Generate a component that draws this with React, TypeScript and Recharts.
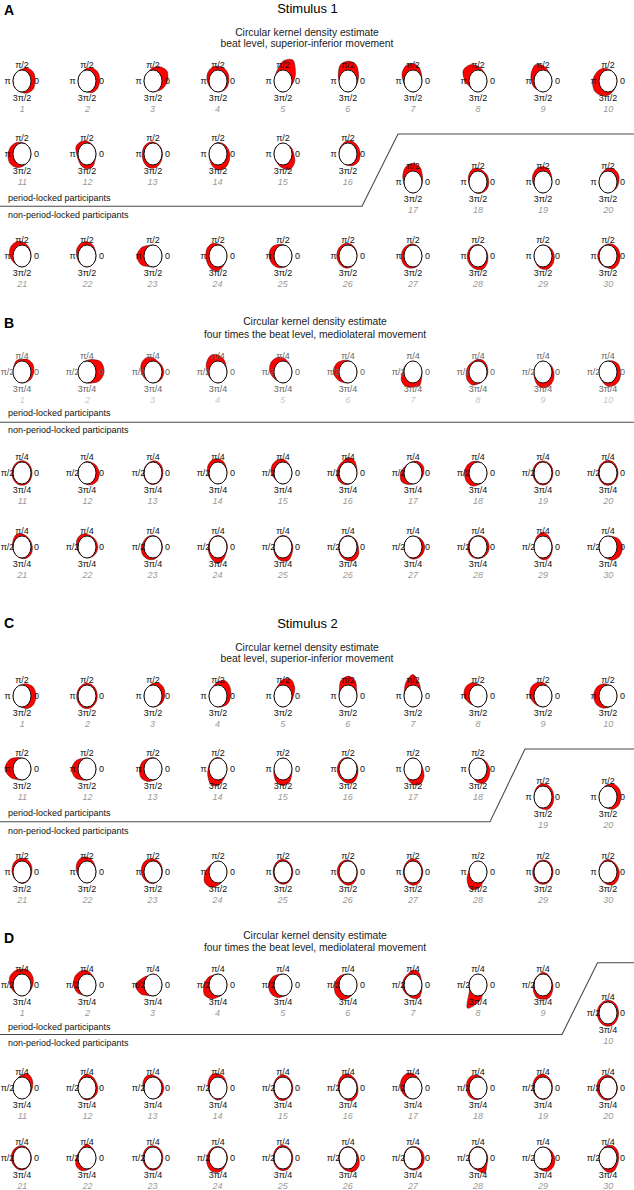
import { RadarChart, Radar, PolarAngleAxis, PolarRadiusAxis } from "recharts";

// angles (degrees, counter-clockwise from the right) at which the density was read
const ANGLES = [0, 30, 60, 90, 120, 150, 180, 210, 240, 270, 300, 330];
const TICK_ANGLES = [0, 90, 180, 270];
const BEAT_TICKS = ["0", "π/2", "π", "3π/2"];
const ML_TICKS = ["0", "π/4", "π/2", "3π/4"];

// density outside the unit circle, in circle radii, at each of ANGLES (participants 1-30)
const STIM1_BEAT: number[][] = [
  [0.45, 0.5, 0.35, 0.1, 0, 0, 0, 0, 0, 0.05, 0.25, 0.45],
  [0.4, 0.45, 0.35, 0.15, 0, 0, 0, 0, 0, 0, 0.2, 0.35],
  [0.6, 0.8, 0.5, 0.2, 0, 0, 0, 0, 0, 0, 0.05, 0.3],
  [0.2, 0.3, 0.35, 0.35, 0.4, 0.35, 0.2, 0.05, 0, 0, 0.05, 0.15],
  [0.2, 0.6, 1.2, 0.8, 0.2, 0, 0, 0, 0, 0, 0, 0],
  [0.1, 0.35, 0.75, 0.8, 0.7, 0.25, 0, 0, 0, 0, 0, 0],
  [0, 0.1, 0.4, 0.6, 0.6, 0.4, 0.1, 0, 0, 0, 0, 0],
  [0, 0, 0.1, 0.35, 0.7, 0.9, 0.45, 0.05, 0, 0, 0, 0],
  [0, 0, 0.1, 0.4, 0.7, 0.5, 0.3, 0.15, 0, 0, 0, 0],
  [0, 0, 0, 0.1, 0.3, 0.5, 0.7, 0.75, 0.5, 0.3, 0.1, 0],
  [0, 0, 0, 0.05, 0.2, 0.4, 0.55, 0.6, 0.4, 0.15, 0, 0],
  [0, 0, 0.05, 0.15, 0.3, 0.4, 0.15, 0.1, 0.25, 0.35, 0.3, 0.05],
  [0.05, 0.05, 0.05, 0.1, 0.15, 0.2, 0.2, 0.25, 0.3, 0.3, 0.2, 0.1],
  [0.3, 0.2, 0.1, 0.05, 0, 0, 0, 0.05, 0.25, 0.45, 0.5, 0.4],
  [0.2, 0.1, 0, 0, 0, 0, 0, 0, 0.1, 0.3, 0.6, 0.5],
  [0.35, 0.3, 0.25, 0.2, 0.1, 0.05, 0, 0, 0, 0.05, 0.2, 0.35],
  [0.05, 0.2, 0.55, 0.7, 0.6, 0.3, 0.05, 0, 0, 0, 0, 0],
  [0.2, 0.2, 0.15, 0.25, 0.3, 0.2, 0.05, 0, 0, 0.05, 0.1, 0.2],
  [0, 0.1, 0.3, 0.4, 0.4, 0.3, 0.15, 0, 0, 0, 0, 0],
  [0.2, 0.35, 0.35, 0.25, 0.1, 0, 0, 0, 0, 0, 0, 0.1],
  [0, 0.05, 0.15, 0.3, 0.45, 0.5, 0.35, 0.1, 0, 0, 0, 0],
  [0, 0.05, 0.2, 0.3, 0.35, 0.3, 0.15, 0.05, 0, 0, 0, 0],
  [0, 0, 0, 0, 0.1, 0.5, 0.8, 0.55, 0.1, 0, 0, 0],
  [0, 0, 0.05, 0.1, 0.3, 0.4, 0.35, 0.35, 0.4, 0.35, 0.1, 0],
  [0, 0, 0, 0.05, 0.2, 0.5, 0.55, 0.4, 0.2, 0.05, 0, 0],
  [0, 0.05, 0.1, 0.15, 0.2, 0.25, 0.25, 0.2, 0.15, 0.1, 0.05, 0],
  [0, 0, 0.05, 0.1, 0.15, 0.25, 0.3, 0.3, 0.2, 0.1, 0.05, 0],
  [0.1, 0.05, 0, 0.05, 0.1, 0.15, 0.2, 0.2, 0.2, 0.25, 0.3, 0.2],
  [0.25, 0.15, 0.05, 0, 0, 0, 0, 0, 0.1, 0.2, 0.3, 0.3],
  [0.35, 0.3, 0.2, 0.1, 0.05, 0.1, 0.15, 0.1, 0.05, 0.1, 0.3, 0.35],
];

const STIM1_ML: number[][] = [
  [0.3, 0.4, 0.3, 0.15, 0.2, 0.05, 0, 0, 0, 0, 0.05, 0.2],
  [0.9, 0.8, 0.3, 0.05, 0, 0, 0, 0, 0, 0, 0.15, 0.6],
  [0.2, 0.15, 0.1, 0.3, 0.5, 0.5, 0.3, 0.1, 0, 0, 0.05, 0.15],
  [0, 0.05, 0.3, 0.55, 0.7, 0.5, 0.2, 0.05, 0, 0, 0, 0],
  [0, 0, 0.1, 0.3, 0.5, 0.6, 0.45, 0.15, 0, 0, 0, 0],
  [0, 0, 0, 0.05, 0.2, 0.5, 0.65, 0.35, 0.1, 0, 0, 0],
  [0, 0, 0, 0, 0, 0.05, 0.15, 0.5, 0.55, 0.35, 0.45, 0.1],
  [0.1, 0.15, 0.2, 0.15, 0.1, 0.2, 0.3, 0.4, 0.35, 0.1, 0, 0.05],
  [0.2, 0.1, 0, 0, 0, 0, 0, 0.1, 0.3, 0.45, 0.45, 0.35],
  [0.4, 0.35, 0.15, 0, 0, 0, 0, 0, 0.1, 0.3, 0.4, 0.45],
  [0.12, 0.12, 0.13, 0.12, 0.12, 0.12, 0.13, 0.12, 0.12, 0.12, 0.13, 0.12],
  [0.35, 0.25, 0.1, 0.05, 0, 0, 0, 0, 0, 0.05, 0.2, 0.35],
  [0.1, 0.15, 0.15, 0.1, 0.05, 0.05, 0.05, 0.05, 0.05, 0.05, 0.05, 0.1],
  [0, 0.05, 0.2, 0.3, 0.35, 0.3, 0.15, 0.05, 0, 0, 0, 0],
  [0, 0, 0.1, 0.25, 0.35, 0.4, 0.3, 0.05, 0, 0, 0, 0],
  [0, 0.1, 0.35, 0.4, 0.2, 0.2, 0.25, 0.25, 0.15, 0.05, 0, 0],
  [0.2, 0.3, 0.2, 0.05, 0, 0.1, 0.4, 0.5, 0.2, 0, 0, 0.05],
  [0, 0, 0, 0.05, 0.2, 0.4, 0.5, 0.5, 0.35, 0.1, 0, 0],
  [0.1, 0.12, 0.1, 0.1, 0.12, 0.15, 0.15, 0.12, 0.1, 0.1, 0.1, 0.1],
  [0.12, 0.12, 0.15, 0.15, 0.12, 0.12, 0.1, 0.1, 0.12, 0.12, 0.12, 0.12],
  [0.15, 0.1, 0.1, 0.2, 0.3, 0.15, 0.05, 0, 0, 0.05, 0.15, 0.2],
  [0.2, 0.15, 0.1, 0.15, 0.3, 0.3, 0.15, 0.05, 0, 0, 0.05, 0.15],
  [0.05, 0.05, 0.05, 0.05, 0.1, 0.15, 0.3, 0.35, 0.25, 0.15, 0.05, 0.05],
  [0.05, 0.05, 0.05, 0.05, 0.05, 0.05, 0.1, 0.15, 0.3, 0.5, 0.25, 0.05],
  [0.1, 0.05, 0.05, 0.05, 0.05, 0.05, 0.05, 0.1, 0.2, 0.3, 0.35, 0.15],
  [0.15, 0.1, 0.05, 0.05, 0.05, 0.05, 0.05, 0.1, 0.15, 0.25, 0.4, 0.35],
  [0.3, 0.2, 0.05, 0, 0, 0, 0, 0, 0.05, 0.1, 0.15, 0.25],
  [0.25, 0.2, 0.1, 0.05, 0.05, 0.1, 0.15, 0.15, 0.1, 0.05, 0.1, 0.2],
  [0.05, 0.05, 0.2, 0.35, 0.2, 0.05, 0, 0, 0.05, 0.15, 0.2, 0.1],
  [0.6, 0.4, 0.1, 0, 0, 0, 0, 0, 0, 0.1, 0.35, 0.55],
];

const STIM2_BEAT: number[][] = [
  [0.55, 0.5, 0.25, 0.05, 0, 0, 0, 0, 0, 0.05, 0.3, 0.5],
  [0.15, 0.15, 0.16, 0.15, 0.15, 0.14, 0.15, 0.15, 0.16, 0.15, 0.15, 0.15],
  [0.3, 0.4, 0.35, 0.15, 0, 0, 0, 0, 0, 0, 0.05, 0.2],
  [0.4, 0.55, 0.6, 0.3, 0.05, 0, 0, 0, 0, 0, 0.1, 0.3],
  [0.15, 0.5, 0.75, 0.5, 0.1, 0, 0, 0, 0, 0, 0, 0.05],
  [0, 0.1, 0.6, 0.8, 0.6, 0.1, 0, 0, 0, 0, 0, 0],
  [0, 0, 0.35, 0.95, 0.5, 0.1, 0, 0, 0, 0, 0, 0],
  [0, 0, 0, 0.1, 0.4, 0.6, 0.55, 0.2, 0, 0, 0, 0],
  [0, 0, 0.05, 0.2, 0.4, 0.55, 0.45, 0.2, 0.05, 0, 0, 0],
  [0, 0, 0, 0.05, 0.25, 0.5, 0.6, 0.5, 0.25, 0.05, 0, 0],
  [0, 0, 0, 0, 0.2, 0.65, 0.9, 0.5, 0.1, 0, 0, 0],
  [0, 0, 0, 0, 0.1, 0.45, 0.7, 0.55, 0.15, 0, 0, 0],
  [0, 0, 0, 0.05, 0.1, 0.35, 0.5, 0.55, 0.3, 0.05, 0, 0],
  [0, 0, 0, 0.05, 0.05, 0.05, 0.1, 0.3, 0.6, 0.5, 0.15, 0],
  [0, 0, 0, 0, 0, 0, 0, 0.15, 0.4, 0.5, 0.4, 0.1],
  [0.1, 0.05, 0, 0.05, 0.1, 0.15, 0.2, 0.2, 0.2, 0.3, 0.35, 0.2],
  [0.1, 0, 0, 0, 0, 0, 0, 0, 0.1, 0.4, 0.6, 0.4],
  [0.3, 0.15, 0.05, 0, 0, 0, 0, 0, 0, 0.25, 0.45, 0.4],
  [0.2, 0.2, 0.2, 0.2, 0.15, 0.05, 0, 0, 0.05, 0.1, 0.25, 0.25],
  [0.45, 0.45, 0.35, 0.15, 0, 0, 0, 0, 0, 0.05, 0.25, 0.4],
  [0.1, 0.2, 0.25, 0.25, 0.25, 0.2, 0.1, 0.05, 0, 0.05, 0.05, 0.05],
  [0, 0.05, 0.2, 0.35, 0.45, 0.35, 0.15, 0, 0, 0, 0, 0],
  [0.05, 0.1, 0.15, 0.2, 0.3, 0.35, 0.3, 0.2, 0.1, 0.05, 0, 0.05],
  [0, 0, 0, 0, 0, 0.1, 0.4, 0.75, 0.6, 0.2, 0, 0],
  [0.1, 0.1, 0.12, 0.15, 0.15, 0.12, 0.1, 0.1, 0.1, 0.12, 0.12, 0.1],
  [0.05, 0.05, 0.05, 0.1, 0.15, 0.2, 0.2, 0.15, 0.15, 0.2, 0.2, 0.1],
  [0.1, 0.1, 0.15, 0.2, 0.15, 0.1, 0.1, 0.1, 0.15, 0.2, 0.2, 0.1],
  [0, 0, 0, 0, 0, 0, 0.05, 0.4, 0.75, 0.5, 0.1, 0],
  [0.12, 0.12, 0.12, 0.1, 0.1, 0.12, 0.15, 0.15, 0.12, 0.12, 0.12, 0.12],
  [0.25, 0.15, 0.1, 0.15, 0.1, 0.05, 0, 0, 0.05, 0.15, 0.3, 0.3],
];

const STIM2_ML: number[][] = [
  [0.2, 0.4, 0.5, 0.45, 0.5, 0.55, 0.35, 0.1, 0, 0, 0, 0.05],
  [0, 0, 0.1, 0.3, 0.45, 0.55, 0.5, 0.3, 0.05, 0, 0, 0],
  [0, 0, 0, 0, 0, 0.3, 0.95, 0.6, 0.1, 0, 0, 0],
  [0, 0, 0, 0, 0.05, 0.3, 0.55, 0.75, 0.45, 0.1, 0, 0],
  [0, 0, 0, 0, 0.1, 0.4, 0.6, 0.55, 0.3, 0.05, 0, 0],
  [0, 0, 0, 0, 0.1, 0.3, 0.5, 0.6, 0.5, 0.2, 0, 0],
  [0, 0.05, 0.3, 0.35, 0.15, 0.15, 0.2, 0.15, 0.1, 0.2, 0.35, 0.1],
  [0, 0, 0, 0, 0, 0, 0, 0.1, 1.4, 0.6, 0.05, 0],
  [0.1, 0.05, 0.1, 0.15, 0.05, 0.05, 0.1, 0.2, 0.35, 0.3, 0.35, 0.2],
  [0.18, 0.18, 0.18, 0.16, 0.16, 0.18, 0.2, 0.2, 0.2, 0.2, 0.2, 0.18],
  [0.15, 0.35, 0.45, 0.2, 0, 0, 0, 0, 0, 0, 0, 0.05],
  [0.2, 0.15, 0.2, 0.25, 0.15, 0.05, 0, 0, 0.05, 0.1, 0.1, 0.2],
  [0.2, 0.15, 0.1, 0.15, 0.3, 0.25, 0.1, 0, 0, 0, 0.05, 0.15],
  [0, 0.05, 0.2, 0.3, 0.4, 0.25, 0.1, 0.05, 0.05, 0.1, 0.05, 0],
  [0.1, 0.1, 0.15, 0.2, 0.15, 0.1, 0.1, 0.1, 0.15, 0.15, 0.1, 0.1],
  [0.1, 0.1, 0.15, 0.3, 0.3, 0.2, 0.1, 0.05, 0.05, 0.15, 0.25, 0.2],
  [0, 0, 0.1, 0.3, 0.5, 0.5, 0.4, 0.2, 0.05, 0, 0, 0],
  [0, 0, 0.05, 0.15, 0.3, 0.35, 0.3, 0.25, 0.15, 0.05, 0, 0],
  [0.05, 0.1, 0.15, 0.25, 0.25, 0.2, 0.15, 0.1, 0.05, 0.05, 0.05, 0.05],
  [0.05, 0.05, 0.1, 0.15, 0.2, 0.25, 0.25, 0.2, 0.15, 0.1, 0.05, 0.05],
  [0.05, 0.05, 0.1, 0.12, 0.15, 0.2, 0.2, 0.15, 0.12, 0.1, 0.08, 0.05],
  [0, 0, 0.1, 0.25, 0.1, 0.05, 0.2, 0.4, 0.3, 0.1, 0, 0],
  [0.1, 0.12, 0.12, 0.12, 0.15, 0.15, 0.15, 0.12, 0.12, 0.12, 0.12, 0.1],
  [0.05, 0.05, 0.05, 0.05, 0.1, 0.15, 0.25, 0.35, 0.4, 0.3, 0.15, 0.05],
  [0.1, 0.1, 0.12, 0.15, 0.15, 0.12, 0.1, 0.1, 0.12, 0.15, 0.15, 0.1],
  [0.2, 0.1, 0.05, 0.05, 0.05, 0.05, 0.05, 0.05, 0.1, 0.2, 0.4, 0.4],
  [0.25, 0.2, 0.1, 0.05, 0.05, 0.05, 0.05, 0.05, 0.05, 0.1, 0.15, 0.25],
  [0.1, 0.05, 0.05, 0.05, 0.05, 0.05, 0.05, 0.05, 0.05, 0.15, 0.55, 0.15],
  [0.3, 0.15, 0.05, 0, 0, 0, 0, 0, 0.05, 0.15, 0.35, 0.4],
  [0.2, 0.25, 0.25, 0.15, 0.05, 0, 0, 0, 0.1, 0.3, 0.35, 0.2],
];

const TITLE_BEAT = ["Circular kernel density estimate", "beat level, superior-inferior movement"];
const TITLE_ML = ["Circular kernel density estimate", "four times the beat level, mediolateral movement"];
const GROUPS = ["period-locked participants", "non-period-locked participants"];

// ---- layout ----
const FONT = "'Liberation Sans', Arial, Helvetica, sans-serif";
const COLS = [22.3, 87.4, 152.5, 217.6, 282.7, 347.8, 412.9, 478, 543.1, 608.2];
const BOX = 70;
const C = BOX / 2;
// the original plots have a slightly taller-than-wide aspect
const SX = 0.9;
const SY = 1.1;

// rows: [first column, count, centre y]
const PANELS = [
  {
    letter: "A", letterY: 10, stim: "Stimulus 1", stimY: 8, data: STIM1_BEAT, ticks: BEAT_TICKS, title: TITLE_BEAT,
    titleX: 307, titleY: [32.3, 43.5], groupY: [197.7, 215],
    line: [[0, 206.3], [362, 206.3], [398, 134], [634, 134]],
    rows: [[0, 10, 80.7], [0, 6, 154], [6, 4, 182.3], [0, 10, 255.7]], faded: false,
  },
  {
    letter: "B", letterY: 323, stim: "", stimY: 0, data: STIM1_ML, ticks: ML_TICKS, title: TITLE_ML,
    titleX: 315, titleY: [321, 334.3], groupY: [413.3, 430],
    line: [[0, 422.3], [634, 422.3]],
    rows: [[0, 10, 371.7], [0, 10, 473.3], [0, 10, 546.7]], faded: true,
  },
  {
    letter: "C", letterY: 622.5, stim: "Stimulus 2", stimY: 623, data: STIM2_BEAT, ticks: BEAT_TICKS, title: TITLE_BEAT,
    titleX: 307, titleY: [647, 658.3], groupY: [813.3, 831],
    line: [[0, 821.7], [490, 821.7], [525, 749], [634, 749]],
    rows: [[0, 10, 695.5], [0, 8, 769], [8, 2, 796.7], [0, 10, 871.7]], faded: false,
  },
  {
    letter: "D", letterY: 938.3, stim: "", stimY: 0, data: STIM2_ML, ticks: ML_TICKS, title: TITLE_ML,
    titleX: 315, titleY: [935, 947.3], groupY: [1026.7, 1043.3],
    line: [[0, 1034.5], [562, 1034.5], [597.5, 962.7], [634, 962.7]],
    rows: [[0, 9, 985], [9, 1, 1013.3], [0, 10, 1088.3], [0, 10, 1158.3]], faded: false,
  },
];

function closedSpline(pts: { x: number; y: number }[]) {
  const n = pts.length;
  if (!n) return "";
  let d = `M${pts[0].x},${pts[0].y}`;
  for (let i = 0; i < n; i++) {
    const p0 = pts[(i - 1 + n) % n];
    const p1 = pts[i];
    const p2 = pts[(i + 1) % n];
    const p3 = pts[(i + 2) % n];
    const c1x = p1.x + (p2.x - p0.x) / 6;
    const c1y = p1.y + (p2.y - p0.y) / 6;
    const c2x = p2.x - (p3.x - p1.x) / 6;
    const c2y = p2.y - (p3.y - p1.y) / 6;
    d += `C${c1x},${c1y} ${c2x},${c2y} ${p2.x},${p2.y}`;
  }
  return d + "Z";
}

const aspect = (cx: number, cy: number) => `translate(${cx},${cy}) scale(${SX},${SY}) translate(${-cx},${-cy})`;

const blobShape = (props: any) => {
  const pts = props.points || [];
  const cx = pts[0]?.cx ?? C;
  const cy = pts[0]?.cy ?? C;
  return (
    <path d={closedSpline(pts)} transform={aspect(cx, cy)} fill="#ff0000" stroke="#2a0000" strokeWidth={0.45} />
  );
};

// unit circle: radius taken from the radar points of the constant series
const ringShape = (props: any) => {
  const pts = props.points || [];
  if (!pts.length) return <g />;
  const cx = pts[0].cx ?? C;
  const cy = pts[0].cy ?? C;
  const r = Math.hypot(pts[0].x - cx, pts[0].y - cy);
  return <ellipse cx={cx} cy={cy} rx={r * SX} ry={r * SY} fill="#fff" stroke="#000" strokeWidth={0.9} />;
};

function AngleTick(props: any) {
  const { payload, labels, color } = props;
  const deg = Number(payload?.value);
  const k = TICK_ANGLES.indexOf(deg);
  if (k < 0) return <g />;
  const rad = (deg * Math.PI) / 180;
  const x = C + 14.5 * Math.cos(rad);
  const y = C - 16.5 * Math.sin(rad);
  return (
    <text x={x} y={y} textAnchor="middle" dominantBaseline="central" fontSize={9} fontFamily={FONT} fill={color}>
      {labels[k]}
    </text>
  );
}

function MiniPolar({ x, y, values, ticks, color }: { x: number; y: number; values: number[]; ticks: string[]; color: string }) {
  const data = ANGLES.map((a, i) => ({ angle: a, density: 1 + values[i], base: 1 }));
  return (
    <div style={{ position: "absolute", left: x - C, top: y - C, width: BOX, height: BOX }}>
      <RadarChart width={BOX} height={BOX} data={data} cx={C} cy={C} outerRadius={30} startAngle={0} endAngle={360}
        margin={{ top: 0, right: 0, bottom: 0, left: 0 }}>
        <PolarRadiusAxis domain={[0, 3]} tick={false} axisLine={false} />
        <PolarAngleAxis
          dataKey="angle"
          type="number"
          domain={[0, 360]}
          ticks={TICK_ANGLES}
          tickLine={false}
          axisLine={false}
          tick={(p: any) => <AngleTick {...p} labels={ticks} color={color} />}
        />
        <Radar dataKey="density" shape={blobShape} isAnimationActive={false} />
        <Radar dataKey="base" shape={ringShape} isAnimationActive={false} />
      </RadarChart>
    </div>
  );
}

export default function App() {
  return (
    <div style={{ position: "absolute", left: 0, top: 0, width: 634, height: 1190, background: "#fff", fontFamily: FONT }}>
      <svg width={634} height={1190} style={{ position: "absolute", left: 0, top: 0 }}>
        {PANELS.map((p) => (
          <g key={p.letter} fontFamily={FONT}>
            <text x={4} y={p.letterY} fontSize={14} fontWeight="bold" dominantBaseline="central" fill="#000">{p.letter}</text>
            {p.stim && (
              <text x={307.5} y={p.stimY} fontSize={13} textAnchor="middle" dominantBaseline="central" fill="#000">{p.stim}</text>
            )}
            {p.title.map((t, i) => (
              <text key={i} x={p.titleX} y={p.titleY[i]} fontSize={10.3} textAnchor="middle" dominantBaseline="central" fill="#222">{t}</text>
            ))}
            {GROUPS.map((g, i) => (
              <text key={g} x={8} y={p.groupY[i]} fontSize={9} dominantBaseline="central" fill="#111">{g}</text>
            ))}
            <polyline points={p.line.map((q) => q.join(",")).join(" ")} fill="none" stroke="#4a4a4a" strokeWidth={1.1} />
            {(() => {
              let n = 0;
              return p.rows.flatMap(([c0, cnt, y], ri) =>
                Array.from({ length: cnt }, (_, j) => {
                  n += 1;
                  return (
                    <text key={n} x={COLS[c0 + j]} y={y + 28} fontSize={9} fontStyle="italic" textAnchor="middle" dominantBaseline="central"
                      fill={p.faded && ri === 0 ? "#c8c8c8" : "#999"}>{n}</text>
                  );
                })
              );
            })()}
          </g>
        ))}
      </svg>
      {PANELS.map((p) => {
        let n = 0;
        return p.rows.flatMap(([c0, cnt, y], ri) =>
          Array.from({ length: cnt }, (_, j) => {
            const idx = n++;
            return (
              <MiniPolar key={p.letter + idx} x={COLS[c0 + j]} y={y} values={p.data[idx]} ticks={p.ticks}
                color={p.faded && ri === 0 ? "#666" : "#111"} />
            );
          })
        );
      })}
    </div>
  );
}
